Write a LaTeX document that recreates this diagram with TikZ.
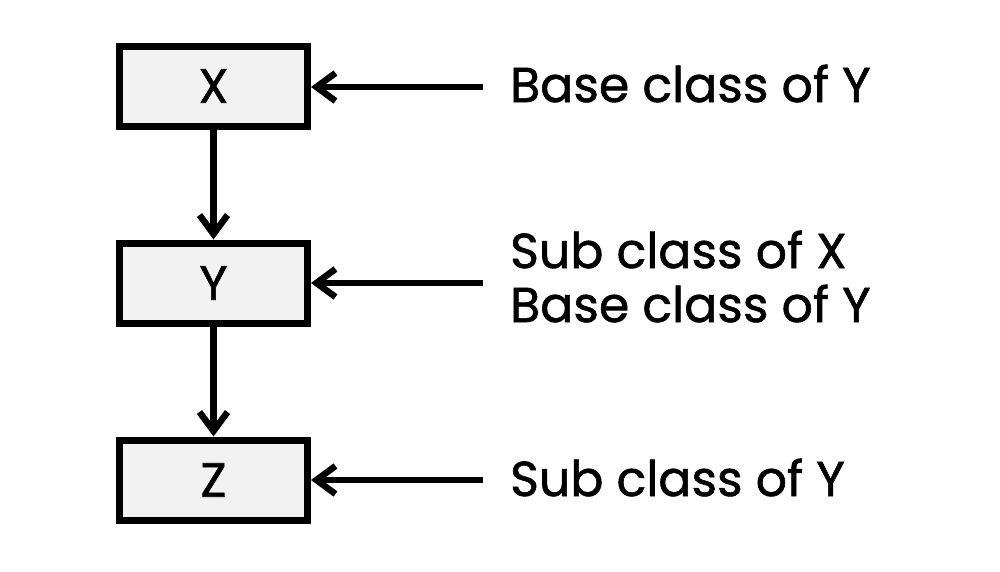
\documentclass[tikz,border=0pt]{standalone}
\usepackage{fontspec}
\setmainfont{Poppins}[FakeBold=1.2]
\usetikzlibrary{arrows.meta}
\definecolor{boxfill}{HTML}{F2F2F2}
\tikzset{
  classbox/.style={draw=black, line width=7pt, fill=boxfill, minimum width=188pt, minimum height=80pt, inner sep=0pt, font=\fontsize{48}{52}\selectfont},
  lbl/.style={anchor=base west, inner ysep=0pt, inner xsep=0pt, align=left, font=\fontsize{49}{54}\selectfont},
  arr/.style={line width=6.5pt, -{Straight Barb[length=19pt, width=28pt]}}
}
\begin{document}
\begin{tikzpicture}[x=1pt,y=1pt]
\useasboundingbox[fill=white] (0,0) rectangle (1000,-571);
\node[classbox] (X) at (213.5,-86) {X};
\node[classbox] (Y) at (213.5,-283) {Y};
\node[classbox] (Z) at (213.5,-480) {Z};
\node[lbl] (lx) at (510,-102) {Base class of Y};
\node[lbl] (ly) at (510,-322) {Sub class of X\\Base class of Y};
\node[lbl] (lz) at (510,-496) {Sub class of Y};
\coordinate (sx) at (483,-87);
\coordinate (sy) at (483,-283);
\coordinate (sz) at (483,-480);
\draw[arr] (X) -- (Y);
\draw[arr] (Y) -- (Z);
\draw[arr] (sx) -- (X.east |- sx);
\draw[arr] (sy) -- (Y.east |- sy);
\draw[arr] (sz) -- (Z.east |- sz);
\end{tikzpicture}
\end{document}
